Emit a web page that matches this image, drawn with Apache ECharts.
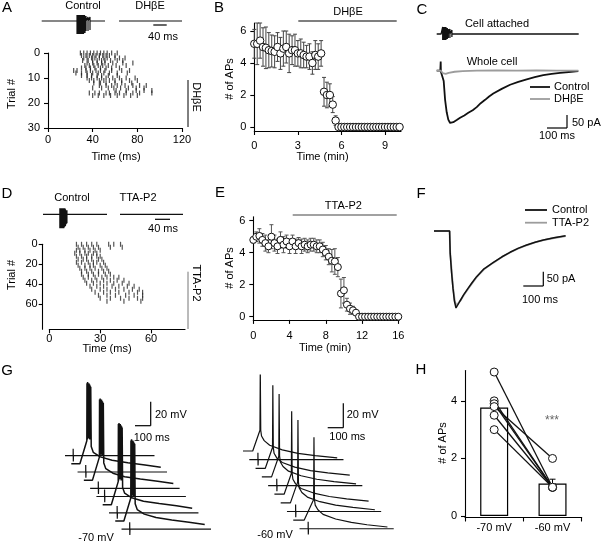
<!DOCTYPE html>
<html><head><meta charset="utf-8">
<script src="https://cdn.jsdelivr.net/npm/echarts@6/dist/echarts.min.js"></script>
<style>html,body{margin:0;padding:0;background:#fff}#c{width:601px;height:542px}</style>
</head><body><div id="c"></div>
<script>
// ================= DATA =================
// Panel A: example sweeps (ms, a.u.)
const aCtrlSpikeTimes = [106,107.5,109,110.5,112,113.5,115,116.5,118,119.5,121,122.5,124,125.5,127,128.5,130,133,139,145];
const aCtrlSpikeTop = [6,6,5,6,6,5,6,6,5,6,6,5,6,6,5,6,5,5,4,4];
const aCtrlSpikeBottom = [-13,-12,-13,-13,-12,-13,-13,-12,-13,-13,-12,-13,-12,-13,-12,-11,-12,-10,-10,-9];
const aStim = [40, 42];
const aSweepLength = [190, 189];
// Panel A raster (trial #, spike times in ms)
const aRasterTrials = [0,1,2,3,4,5,6,7,8,9,10,11,12,13,14,15,16,17];
const aRasterTimes = [
  [29,32,35,38,41,44,47,50,53,57,62],
  [30,34,37,40,43,46,49,52,55,60],
  [32,35,39,42,46,50,53,60,64,69],
  [31,36,40,44,48,51,56,62,67],
  [35,40,44,48,51,58,67,76],
  [33,37,41,45,49,54,61,70],
  [30,34,38,42,47,52,57,64],
  [23,26,34,38,43,47,51,57,66,73],
  [25,30,35,40,45,50,55,62,71],
  [30,35,39,44,48,54,62],
  [35,39,44,48,52,58,64,70,78],
  [37,41,46,50,55,60,66,73,80],
  [41,47,52,60,66,75],
  [46,52,57,62,69,76,82,88],
  [40,48,54,59,65,72,79,86],
  [61,70,79,86,93],
  [37,42,46,52,55,60,64,70,76,82,93],
  [40,45,50,56,62,68,74,80]
];
// Panel B: # of APs vs time (min)
const bTime = [0,0.2,0.4,0.6,0.8,1,1.2,1.4,1.6,1.8,2,2.2,2.4,2.6,2.8,3,3.2,3.4,3.6,3.8,4,4.2,4.4,4.6,4.8,5,5.2,5.4,5.6,5.8,6,6.2,6.4,6.6,6.8,7,7.2,7.4,7.6,7.8,8,8.2,8.4,8.6,8.8,9,9.2,9.4,9.6,9.8,10];
const bMean = [5.2,5.2,5.4,5.0,4.95,4.8,4.75,4.7,5.0,4.6,4.9,5.0,4.6,4.8,4.8,4.6,4.6,4.5,4.4,4.4,4.0,4.5,4.4,4.6,2.2,2.0,2.0,1.4,0.4,0,0,0,0,0,0,0,0,0,0,0,0,0,0,0,0,0,0,0,0,0,0];
const bSem = [0.9,1.3,1.1,1.2,1.3,1.1,1.0,1.0,0.9,1.0,1.1,1.0,1.2,0.9,1.0,0.8,0.9,0.8,0.7,0.8,0.7,0.9,0.8,0.8,0.9,0.8,0.7,0.5,0.3,0,0,0,0,0,0,0,0,0,0,0,0,0,0,0,0,0,0,0,0,0,0];
// Panel C: cell-attached sweep and whole-cell currents (ms, pA)
const cSpikeTimes = [30,32,34,36,38,40,42,44,46,49,53,58,66,76];
const cSpikeTop = [7,7,6,7,7,6,7,6,7,6,6,5,5,4];
const cSpikeBottom = [-6,-6,-5,-6,-6,-5,-6,-5,-6,-5,-5,-4,-4,-3];
const cStim = 22;
const cSweepLength = 710;
const cControl = [[0,0],[18,0],[20,35],[21,-4],[24,0],[28,0],[35,-40],[42,-112],[50,-160],[58,-188],[67,-201],[75,-203],[83,-198],[100,-190],[117,-181],[138,-172],[158,-162],[180,-152],[200,-140],[220,-125],[242,-112],[262,-99],[283,-88],[325,-70],[367,-54],[408,-43],[450,-33],[490,-25],[533,-17],[575,-12],[617,-8],[660,-5],[708,-2]];
const cDhbe = [[0,0],[20,0],[24,-3],[30,-9],[45,-12],[60,-8],[90,-4],[130,-2],[200,0],[300,1],[400,0],[500,1],[600,0],[708,0]];
// Panel D: example sweeps and raster
const dCtrlSpikeTimes = [45,46.5,48,49.5,51,52.5,54,55.5,57,58.5,60,62,64];
const dCtrlSpikeTop = [6,6,5,6,6,5,6,6,5,6,5,4,4];
const dCtrlSpikeBottom = [-14,-13,-14,-14,-13,-14,-13,-14,-13,-12,-12,-10,-9];
const dStim = [24, 27];
const dSweepLength = [171, 168];
const dRasterTrials = [0,3,6,9,12,15,18,21,24,27,30,33,36,39,42,45,48,51,54,57];
const dRasterTimes = [
  [16,19,22,25,28,35,38,42],
  [17,20,23,26,29,36,43],
  [16,18,21,24,27,30],
  [15,18,21,23,26,28],
  [16,19,22,25,28,30],
  [17,20,22,25,29,31],
  [16,19,23,26,28,32],
  [17,21,24,26,30,33],
  [18,21,24,27,31,34],
  [19,22,25,29,32,35],
  [19,23,26,29,33,36],
  [20,23,27,31,34,38,41],
  [21,25,28,32,36,40,44],
  [22,26,30,34,38,43,47],
  [24,28,32,37,41,46,50],
  [25,30,34,39,44,49,53],
  [27,32,36,41,47,52,55],
  [29,34,39,45,50,55],
  [30,36,42,47,52,55],
  [34,44,54]
];
// Panel E
const eTime = [0,0.33,0.67,1,1.33,1.67,2,2.33,2.67,3,3.33,3.67,4,4.33,4.67,5,5.33,5.67,6,6.33,6.67,7,7.33,7.67,8,8.33,8.67,9,9.33,9.67,10,10.33,10.67,11,11.33,11.67,12,12.33,12.67,13,13.33,13.67,14,14.33,14.67,15,15.33,15.67,16];
const eMean = [4.8,5.0,5.05,4.8,4.6,4.4,5.0,4.6,4.4,4.8,4.5,4.7,4.4,4.7,4.4,4.6,4.4,4.5,4.4,4.5,4.5,4.4,4.4,4.2,4.0,3.75,3.5,3.45,3.1,1.45,1.65,0.75,0.5,0.4,0.25,0,0,0,0,0,0,0,0,0,0,0,0,0,0];
const eSem = [0.2,0.3,0.45,0.4,0.5,0.4,0.75,0.5,0.45,0.5,0.5,0.4,0.45,0.4,0.45,0.35,0.45,0.4,0.4,0.4,0.4,0.4,0.4,0.45,0.45,0.5,0.7,0.8,0.6,0.9,0.8,0.4,0.35,0.25,0.15,0,0,0,0,0,0,0,0,0,0,0,0,0,0];
// Panel F (ms, pA)
const fControl = [[0,0],[78,0],[80,0],[81,-80],[88,-150],[95,-205],[102,-250],[110,-275],[118,-268],[130,-250],[147,-229],[170,-205],[190,-185],[213,-163],[250,-135],[297,-112],[340,-92],[380,-76],[420,-62],[463,-50],[505,-40],[547,-32],[600,-24],[658,-17]];
const fTtaP2 = [[0,0],[78,0],[80,0],[81,-78],[95,-200],[104,-250],[112,-266],[122,-262],[135,-246],[150,-228],[170,-207],[190,-187],[213,-165],[250,-137],[297,-113],[340,-93],[380,-77],[420,-63],[463,-51],[505,-41],[547,-33],[600,-25],[658,-18]];
// Panel G: trace shapes (ms, mV relative to baseline) and the kind of each stacked sweep
const gTickShape = [[0,0],[52,0],[52,6],[53,-5],[54,0],[570,0]];
const gBurstShape = [[0,0],[55,0],[99,20],[100,70],[102,21],[104,71],[106,22],[108,70],[110,22],[112,70],[114,22],[116,69],[118,21],[120,68],[122,21],[124,67],[127,15],[140,10],[185,6],[260,3],[360,1],[470,-1],[570,-3]];
const gRightTickShape = [[0,0],[55,0],[55,6],[56,-5],[57,0],[600,0]];
const gSpikeShape = [[0,0],[62,0],[108,18],[110,72],[113,18],[118,13],[135,9],[170,5],[250,1],[350,-2],[460,-4],[600,-6]];
const gSpikeLateShape = [[0,0],[70,0],[130,18],[132,72],[135,18],[140,13],[157,9],[190,5],[270,1],[370,-2],[470,-4],[600,-6]];
const gLeftKinds = ['tick','burst','tick','burst','tick','tick','burst','tick','burst','tick'];
const gRightKinds = ['spike','tick','spike','spike','tick','spike','spike','tick','spikeLate','tick'];
// Panel H
const hCategories = ['-70 mV', '-60 mV'];
const hMeans = [3.77, 1.13];
const hSem = [0.08, 0.15];
const hAtMinus70 = [5.0, 4.0, 3.9, 3.8, 3.5, 3.0];
const hAtMinus60 = [1.0, 1.0, 1.0, 2.0, 1.0, 1.0];

// ================= CHART =================
const FONT = '"Liberation Sans", Arial, Helvetica, sans-serif';
const BLK = '#111';
const GRY = '#9c9c9c';
const chart = echarts.init(document.getElementById('c'), null, {renderer:'canvas', width:601, height:542});

const grids=[], xAxes=[], yAxes=[], series=[];
function addGrid(left, top, width, height, xa, ya){
  grids.push({left, top, width, height, containLabel:false});
  const gi = grids.length-1;
  xAxes.push(Object.assign({gridIndex:gi}, xa));
  yAxes.push(Object.assign({gridIndex:gi}, ya));
  return gi;
}
const hid = (min,max)=>({type:'value', min, max, show:false});
function vis(min, max, ticks, margin, extra){
  return Object.assign({type:'value', min, max,
    axisLine:{show:true, onZero:false, lineStyle:{color:'#000', width:1.1}},
    axisTick:{show:true, length:4, lineStyle:{color:'#000', width:1.1}, customValues:ticks},
    axisLabel:{show:true, color:'#000', fontSize:11, fontFamily:FONT, margin, customValues:ticks},
    splitLine:{show:false}}, extra||{});
}
function line(gi, data, color, w, z){
  series.push({type:'line', xAxisIndex:gi, yAxisIndex:gi, data, symbol:'none', showSymbol:false,
    lineStyle:{color, width:w}, silent:true, z:z||2, animation:false});
}
function sweep(len, stim, times, tops, bots){
  const pts=[[0,0],[stim,0],[stim,2],[stim+0.5,0]];
  (times||[]).forEach((t,i)=>pts.push([t,0],[t,tops[i]],[t,bots[i]],[t,0]));
  pts.push([len,0]);
  return pts;
}
function raster(gi, trials, times, color){
  const d=[];
  trials.forEach((tr,i)=>times[i].forEach(t=>d.push([t,tr])));
  series.push({type:'scatter', xAxisIndex:gi, yAxisIndex:gi, data:d, symbol:'rect', symbolSize:[1.2,5],
    itemStyle:{color}, silent:true, animation:false});
}
function errSeries(gi, data, cap, color, upOnly){
  series.push({type:'custom', xAxisIndex:gi, yAxisIndex:gi, silent:true, z:3, animation:false, data,
    renderItem:(p,api)=>{
      const x=api.value(0), y=api.value(1), e=api.value(2);
      if(!(e>0)) return null;
      const top=api.coord([x,y+e]), bot=api.coord(upOnly?[x,y]:[x,y-e]);
      const st={stroke:color, lineWidth:1};
      const ch=[{type:'line', shape:{x1:top[0],y1:top[1],x2:bot[0],y2:bot[1]}, style:st},
        {type:'line', shape:{x1:top[0]-cap,y1:top[1],x2:top[0]+cap,y2:top[1]}, style:st}];
      if(!upOnly) ch.push({type:'line', shape:{x1:bot[0]-cap,y1:bot[1],x2:bot[0]+cap,y2:bot[1]}, style:st});
      return {type:'group', children:ch};
    }});
}
function circles(gi, data, size, z){
  series.push({type:'scatter', xAxisIndex:gi, yAxisIndex:gi, data, symbol:'circle', symbolSize:size,
    itemStyle:{color:'#fff', borderColor:BLK, borderWidth:1, opacity:1}, silent:true, z:z||4, animation:false});
}

// ---- A ----
const gA1 = addGrid(41.7, 9, 63.3, 26, hid(0,190), hid(-14,12));
const gA2 = addGrid(119, 9, 63, 26, hid(0,189), hid(-14,12));
line(gA1, sweep(aSweepLength[0], aStim[0], aCtrlSpikeTimes, aCtrlSpikeTop, aCtrlSpikeBottom), BLK, 1.2);
line(gA2, sweep(aSweepLength[1], aStim[1]), BLK, 1.2);
const gA3 = addGrid(48, 53, 134, 75, vis(0,120,[0,40,80,120],6), vis(0,30,[0,10,20,30],8,{inverse:true}));
raster(gA3, aRasterTrials, aRasterTimes, '#222');

// ---- B ----
const gB = addGrid(254.3, 23, 146.7, 108, vis(0,10.1,[0,3,6,9],9), vis(-0.25,6.5,[0,2,4,6],8));
errSeries(gB, bTime.map((t,i)=>[t,bMean[i],bSem[i]]), 2, '#444', false);
circles(gB, bTime.map((t,i)=>[t,bMean[i]]), 7.5);

// ---- C ----
const gC1 = addGrid(436.7, 24, 142, 20, hid(0,710), hid(-10,10));
line(gC1, sweep(cSweepLength, cStim, cSpikeTimes, cSpikeTop, cSpikeBottom), BLK, 1.3);
const gC2 = addGrid(436.7, 60.3, 142, 65, hid(0,710), hid(-210,40));
line(gC2, cControl, BLK, 1.8, 2);
line(gC2, cDhbe, GRY, 1.8, 3);

// ---- D ----
const gD1 = addGrid(43, 200.3, 64, 30, hid(0,171), hid(-16,14));
const gD2 = addGrid(120, 200.3, 63, 30, hid(0,168), hid(-16,14));
line(gD1, sweep(dSweepLength[0], dStim[0], dCtrlSpikeTimes, dCtrlSpikeTop, dCtrlSpikeBottom), BLK, 1.2);
line(gD2, sweep(dSweepLength[1], dStim[1]), BLK, 1.2);
const gD3 = addGrid(49.3, 244.3, 135.7, 85, vis(0,80,[0,30,60],4), vis(0,85,[0,20,40,60],5,{inverse:true, offset:6.6}));
raster(gD3, dRasterTrials, dRasterTimes, '#2a2a2a');

// ---- E ----
const gE = addGrid(253.3, 216.7, 145.9, 103.2, vis(0,16.1,[0,4,8,12,16],11), vis(-0.2,6.25,[0,2,4,6],8));
errSeries(gE, eTime.map((t,i)=>[t,eMean[i],eSem[i]]), 2, '#555', false);
circles(gE, eTime.map((t,i)=>[t,eMean[i]]), 7);

// ---- F ----
const gF = addGrid(434, 225.4, 132, 86.8, hid(0,660), hid(-290,20));
line(gF, fTtaP2, GRY, 1.8, 2);
line(gF, fControl, BLK, 1.5, 3);

// ---- G ----
const gGL = addGrid(65, 375, 157, 174, hid(0,1000), hid(-75,70));
const gGR = addGrid(243, 375, 157, 174, hid(0,1000), hid(-79,66));
const leftShapes = {tick:gTickShape, burst:gBurstShape};
const rightShapes = {tick:gRightTickShape, spike:gSpikeShape, spikeLate:gSpikeLateShape};
gLeftKinds.forEach((k,i)=>line(gGL, leftShapes[k].map(p=>[p[0]+40*i, p[1]-7.1*i]), BLK, k==='burst'?1.5:1.2));
gRightKinds.forEach((k,i)=>line(gGR, rightShapes[k].map(p=>[p[0]+40*i, p[1]-7.5*i]), BLK, 1.2));

// ---- H ----
const gH = addGrid(465, 370.6, 116.7, 146.9,
  {type:'category', data:hCategories, boundaryGap:true,
   axisLine:{show:true, onZero:false, lineStyle:{color:'#000', width:1.1}},
   axisTick:{show:true, length:4, lineStyle:{color:'#000', width:1.1}},
   axisLabel:{color:'#000', fontSize:11, fontFamily:FONT, margin:5}},
  vis(-0.05,5.05,[0,2,4],8));
series.push({type:'bar', xAxisIndex:gH, yAxisIndex:gH, data:hMeans, barWidth:28, silent:true, animation:false,
  itemStyle:{color:'#fff', borderColor:'#000', borderWidth:1.2}, z:2});
errSeries(gH, hMeans.map((m,i)=>[i,m,hSem[i]]), 3, '#000', true);
hAtMinus70.forEach((v,i)=>line(gH, [[0,v],[1,hAtMinus60[i]]], BLK, 1.3, 4));
circles(gH, hAtMinus70.map(v=>[0,v]), 8, 5);
circles(gH, hAtMinus60.map(v=>[1,v]), 8, 5);

// ---- annotations ----
function T(text,x,y,o){ o=o||{};
  const al=o.align||'center';
  return {type:'text', x, y, rotation:o.rot||0, z:100, silent:true,
    style:{text, x:0, y:0, fill:o.color||'#000', font:(o.size||11)+'px '+FONT,
      textAlign:al, align:al, textVerticalAlign:'middle', verticalAlign:'middle'}};
}
function L(x1,y1,x2,y2,o){ o=o||{};
  return {type:'line', z:100, silent:true, shape:{x1,y1,x2,y2}, style:{stroke:o.color||'#000', lineWidth:o.w||1.2}};
}
const R90 = Math.PI/2;
const graphics = [
  T('A',7,8,{size:15}), T('B',219,8,{size:15}), T('C',422,10,{size:15}), T('D',7,194,{size:15}),
  T('E',220,193,{size:15}), T('F',421,193.5,{size:15}), T('G',7,371,{size:15}), T('H',421,370,{size:15}),
  // A
  T('Control',83,6), T('DHβE',150,6), L(153.3,25,166.7,25), T('40 ms',163,37),
  T('Time (ms)',116,157), T('Trial #',12,94,{rot:R90}), L(188,80,188,127,{w:1}), T('DHβE',196,97,{rot:-R90}),
  // B
  L(298.3,21,396.7,21), T('DHβE',348,12.3), T('# of APs',230,79,{rot:R90}), T('Time (min)',322.5,157),
  // C
  T('Cell attached',497,24), T('Whole cell',492,62),
  L(530,87,550,87,{w:1.8,color:BLK}), T('Control',554,87,{align:'left'}),
  L(530,99,550,99,{w:1.8,color:GRY}), T('DHβE',554,99,{align:'left'}),
  L(567,115,567,128), L(547,128,567,128), T('50 pA',572,123,{align:'left'}), T('100 ms',557,136),
  // D
  T('Control',72,197.7), T('TTA-P2',138,197.7), L(155,219.3,170,219.3), T('40 ms',163,229.3),
  T('Trial #',12,275,{rot:R90}), T('Time (ms)',107,349), L(188,271.7,188,329,{color:'#777',w:1}), T('TTA-P2',196,283,{rot:-R90}),
  // E
  L(292.7,215,396.7,215,{color:'#444'}), T('TTA-P2',343.3,205.7), T('# of APs',230,268,{rot:R90}), T('Time (min)',325,348.3),
  // F
  L(525,210,547,210,{w:1.8,color:BLK}), T('Control',552,210,{align:'left'}),
  L(525,222.7,547,222.7,{w:1.8,color:GRY}), T('TTA-P2',552,222.7,{align:'left'}),
  L(543.3,271.7,543.3,286), L(523.3,286,543.3,286), T('50 pA',546.7,279,{align:'left'}), T('100 ms',540,300),
  // G
  L(150.7,401.7,150.7,425.7), L(135,425.7,150.7,425.7), T('20 mV',155,415,{align:'left'}), T('100 ms',151.7,438.3),
  T('-70 mV',96,538.3),
  L(343.3,403.3,343.3,427.7), L(327.7,427.7,343.3,427.7), T('20 mV',346.7,415,{align:'left'}), T('100 ms',347.3,436.7),
  T('-60 mV',275,535),
  // H
  T('# of APs',443.3,443,{rot:R90}), T('***',552,421,{color:'#666',size:12})
];

chart.setOption({
  animation:false, backgroundColor:'#fff',
  grid:grids, xAxis:xAxes, yAxis:yAxes, series, graphic:{elements:graphics}
});
</script></body></html>
